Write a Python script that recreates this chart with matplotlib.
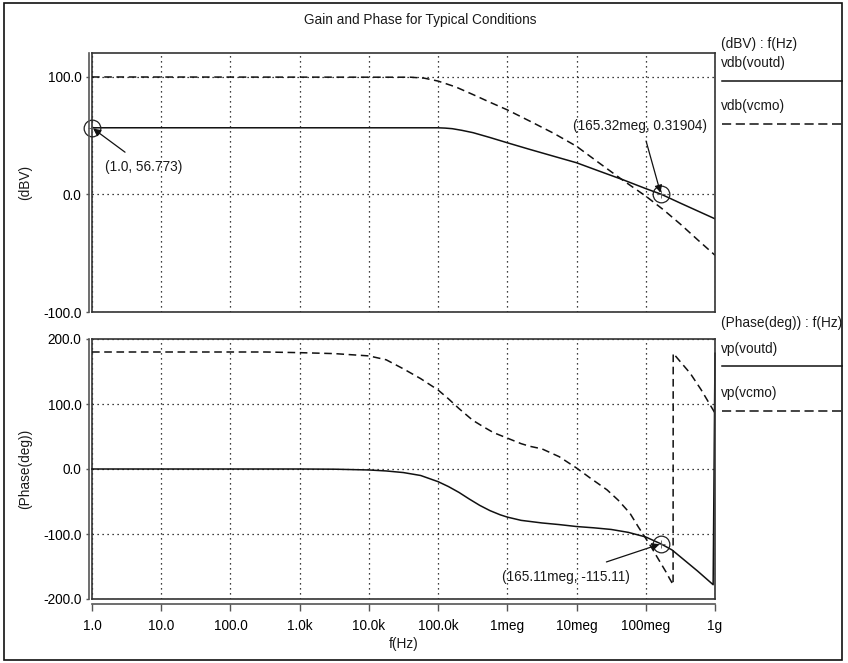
import numpy as np
import matplotlib
matplotlib.use('Agg')
import matplotlib.pyplot as plt
from matplotlib.lines import Line2D
from matplotlib.patches import Rectangle

plt.rcParams['font.family'] = ['Liberation Sans', 'DejaVu Sans']
plt.rcParams['font.size'] = 9.8
plt.rcParams['text.color'] = '#1a1a1a'

# values (frequency in Hz)
gain_voutd_f = [1, 1e5, 1.26e5, 1.6e5, 2.2e5, 3.2e5, 5.6e5, 1e6, 2.1e6, 4.7e6, 1e7, 2.1e7,
                4.7e7, 1e8, 1.6532e8, 3.2e8, 1e9]
gain_voutd = [56.773, 56.75, 56.5, 56.0, 54.6, 52.6, 48.5, 44.0, 38.4, 32.5, 27.0, 20.0,
              12.5, 5.0, 0.31904, -7.5, -20.7]

gain_vcmo_f = [1, 4e4, 6.3e4, 1e5, 1.8e5, 3.2e5, 5.6e5, 1e6, 2.1e6, 4.7e6, 1e7, 2.1e7, 4.7e7,
               1e8, 1.8e8, 3.2e8, 5.6e8, 1e9]
gain_vcmo = [100.0, 99.8, 99.0, 96.5, 91.5, 85.0, 78.5, 72.0, 62.5, 52.0, 41.0, 27.0, 12.0,
             -1.4, -13.0, -25.5, -38.5, -51.7]

phase_voutd_f = [1, 1e3, 3.2e3, 1e4, 1.78e4, 3.16e4, 5.6e4, 1e5, 1.41e5, 2e5, 2.8e5, 4e5, 5.6e5,
                 7.9e5, 1e6, 1.58e6, 3.16e6, 5.6e6, 1e7, 1.78e7, 3.16e7, 5.6e7, 1e8, 1.6511e8,
                 2.4e8, 3.5e8, 5.6e8, 9.4e8, 1e9]
phase_voutd = [0, 0, -0.3, -1.5, -3, -5.5, -10, -19.5, -27, -36, -46, -56, -64,
               -70.5, -74, -79, -83, -85.5, -88.5, -90.5, -93, -97.5, -104.6, -115.11,
               -124.6, -139, -157, -178, 178]

phase_vcmo_f = [1, 3.2e2, 1e3, 3.2e3, 1e4, 1.78e4, 3.16e4, 5.6e4, 1e5, 1.41e5, 2e5, 3.16e5, 4.5e5,
                6.3e5, 1e6, 1.58e6, 2.1e6, 3.16e6, 5.6e6, 1e7, 1.58e7, 2.75e7, 4e7, 5.9e7, 7.9e7,
                9.1e7, 1.2e8, 1.45e8, 2e8, 2.19e8, 2.48e8, 2.49e8, 3.16e8, 4.4e8, 6.3e8, 1e9]
phase_vcmo = [180, 180, 179, 177.5, 174, 168, 154, 139, 121.5, 108, 93, 75, 65,
              56, 47.5, 39, 35, 31, 19, 1.5, -14, -32, -48, -68, -90,
              -100, -120, -135, -160, -168, -178, 178, 165, 147, 122, 86]

tick_freqs = [1, 10, 100, 1e3, 1e4, 1e5, 1e6, 1e7, 1e8, 1e9]
tick_names = ['1.0', '10.0', '100.0', '1.0k', '10.0k', '100.0k', '1meg', '10meg', '100meg', '1g']

W, H = 848, 663
fig = plt.figure(figsize=(W / 100, H / 100), dpi=100)


def px_axes(left, top, right, bottom):
    return [left / W, 1 - bottom / H, (right - left) / W, (bottom - top) / H]


ax1 = fig.add_axes(px_axes(92, 53, 715, 312))
ax2 = fig.add_axes(px_axes(92, 339, 715, 599))

dash = (0, (5, 3))
for ax in (ax1, ax2):
    ax.set_xscale('log')
    ax.set_xlim(1, 1e9)
    ax.xaxis.set_minor_locator(matplotlib.ticker.NullLocator())
    ax.set_xticks(tick_freqs)
    ax.grid(True, which='major', linestyle=(0, (1, 3)), color='k', lw=0.9)
    for s in ax.spines.values():
        s.set_color('#333333')
        s.set_linewidth(1.2)
    ax.spines['left'].set_position(('outward', 2.2))
    ax.spines['left'].set_color('#555555')
    ax.plot([0, 0], [0, 1], transform=ax.transAxes, color='#333333', lw=1.2, clip_on=False)
    ax.tick_params(axis='y', direction='out', length=2.5, width=1, color='#555555', pad=3)

ax1.set_ylim(-100, 120.4)
ax1.set_yticks([-100, 0, 100])
ax1.set_yticklabels(['-100.0', '0.0', '100.0'])
ax1.tick_params(axis='x', bottom=False, labelbottom=False)

ax2.set_ylim(-200, 200)
ax2.set_yticks([-200, -100, 0, 100, 200])
ax2.set_yticklabels(['-200.0', '-100.0', '0.0', '100.0', '200.0'])
ax2.set_xticklabels(tick_names)
ax2.spines['bottom'].set_position(('outward', 3.6))
ax2.spines['bottom'].set_color('#555555')
ax2.plot([0, 1], [0, 0], transform=ax2.transAxes, color='#333333', lw=1.2, clip_on=False)
ax2.tick_params(axis='x', direction='out', length=5, width=1, color='#555555', pad=6)

# curves
ax1.plot(gain_voutd_f, gain_voutd, color='#111111', lw=1.1)
ax1.plot(gain_vcmo_f, gain_vcmo, color='#111111', lw=1.1, linestyle=dash)
ax2.plot(phase_voutd_f, phase_voutd, color='#111111', lw=1.1, clip_on=False)
ax2.plot(phase_vcmo_f, phase_vcmo, color='#111111', lw=1.1, linestyle=dash)


def mark(ax, x, y, label, text_xy, tail_xy):
    ax.plot([x], [y], 'o', ms=12, mfc='none', mec='#222222', mew=0.9, clip_on=False)
    ax.plot([x], [y], '+', ms=6, mec='#555555', mew=0.6, clip_on=False)
    ax.annotate('', xy=(x, y), xytext=tail_xy, annotation_clip=False,
                arrowprops=dict(arrowstyle='-|>', color='#111111', lw=0.9,
                                mutation_scale=11, shrinkA=0, shrinkB=1))
    ax.text(text_xy[0], text_xy[1], label, ha='center', va='center')


mark(ax1, gain_voutd_f[0], gain_voutd[0], '(1.0, 56.773)', (5.6, 23.0), (3.0, 36.0))
mark(ax1, gain_voutd_f[14], gain_voutd[14], '(165.32meg, 0.31904)', (8.3e7, 58.0), (1.01e8, 45.5))
mark(ax2, phase_voutd_f[23], phase_voutd[23], '(165.11meg, -115.11)', (7.1e6, -166.0), (2.7e7, -143.0))

# title, axis labels
fig.text(420 / W, 1 - 20 / H, 'Gain and Phase for Typical Conditions', ha='center', va='center')
fig.text(25 / W, 1 - 182 / H, '(dBV)', rotation=90, ha='center', va='center')
fig.text(25 / W, 1 - 469 / H, '(Phase(deg))', rotation=90, ha='center', va='center')
fig.text(403.5 / W, 1 - 644 / H, 'f(Hz)', ha='center', va='center')


# legend panel on the right
def legend_text(y, s):
    fig.text(721 / W, 1 - y / H, s, ha='left', va='center')


def legend_line(y, ls):
    fig.add_artist(Line2D([722 / W, 842 / W], [1 - y / H, 1 - y / H], color='#111111', lw=1.1, linestyle=ls))


legend_text(44, '(dBV) : f(Hz)')
legend_text(63, 'vdb(voutd)')
legend_line(81, '-')
legend_text(106, 'vdb(vcmo)')
legend_line(124, (0, (6, 3)))
legend_text(323, '(Phase(deg)) : f(Hz)')
legend_text(349, 'vp(voutd)')
legend_line(366, '-')
legend_text(393, 'vp(vcmo)')
legend_line(411, (0, (6, 3)))

# outer frame
fig.add_artist(Rectangle((4 / W, 3 / H), 838 / W, 657 / H, transform=fig.transFigure,
                         fill=False, ec='#111111', lw=1.2))

fig.savefig('out.png', dpi=100)
